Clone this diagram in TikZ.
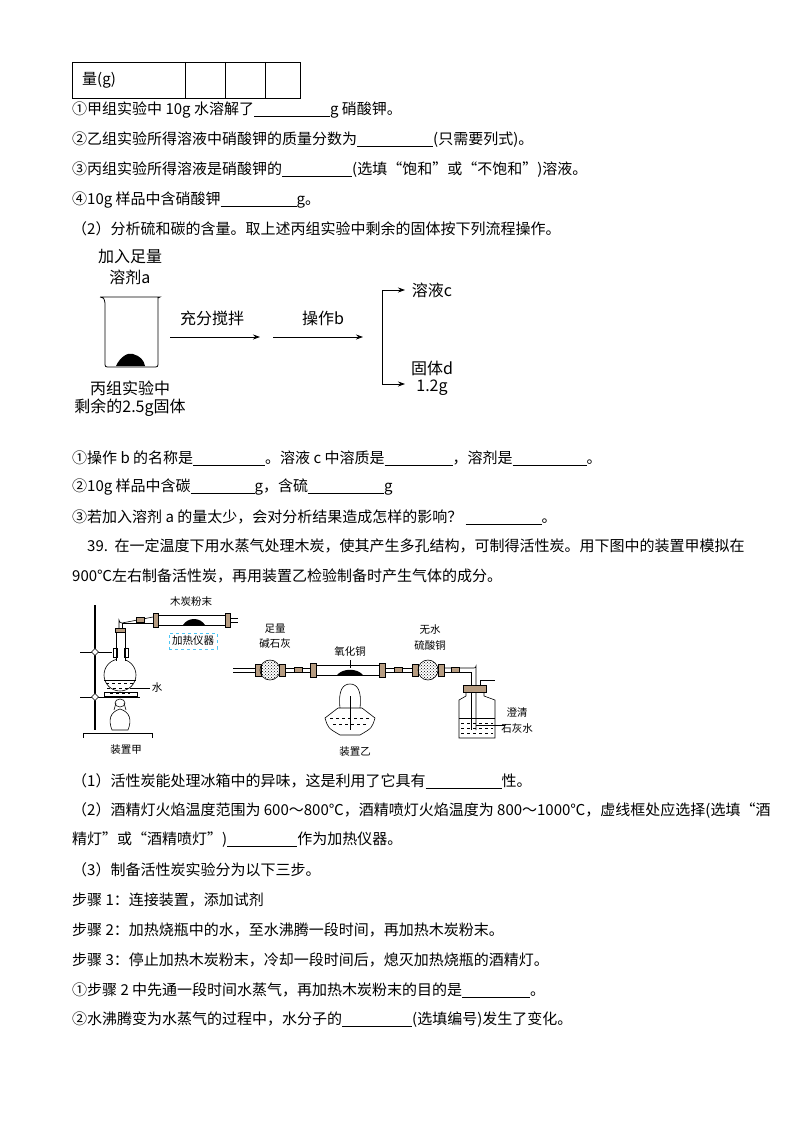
\documentclass[tikz,border=0pt]{standalone}
\usepackage{fontspec}
\setmainfont{Noto Sans CJK SC}
\usetikzlibrary{arrows.meta,patterns}
\newcommand{\blank}[1]{\rule[-2pt]{#1pt}{0.6pt}}
\begin{document}
\begin{tikzpicture}[x=1pt,y=-1pt,
  txt/.style={anchor=west,inner sep=0pt,font=\fontsize{15}{17}\selectfont},
  big/.style={inner sep=0pt,font=\fontsize{16}{19}\selectfont},
  sm/.style={inner sep=0pt,font=\fontsize{10.5}{12}\selectfont},
  flow/.style={-{Stealth[length=7pt,width=5pt]},line width=0.8pt},
  app/.style={line width=0.6pt},
  cork/.style={fill=brown!70!black!60,draw=black,line width=0.4pt}]
\useasboundingbox (0,0) rectangle (800,1132);
\fill[white] (0,0) rectangle (800,1132);
% table
\draw[line width=0.7pt] (72,62) rectangle (300,98);
\foreach \x in {185,225,265} \draw[line width=0.7pt] (\x,62)--(\x,98);
\node[txt] (t0) at (82,80) {量(g)};
\node[txt] (l1) at (72,110) {①甲组实验中 10g 水溶解了\blank{76}g 硝酸钾。};
\node[txt] (l2) at (72,140) {②乙组实验所得溶液中硝酸钾的质量分数为\blank{76}(只需要列式)。};
\node[txt] (l3) at (72,170) {③丙组实验所得溶液是硝酸钾的\blank{70}(选填“饱和”或“不饱和”)溶液。};
\node[txt] (l4) at (72,200) {④10g 样品中含硝酸钾\blank{76}g。};
\node[txt] (l5) at (72,229) {（2）分析硫和碳的含量。取上述丙组实验中剩余的固体按下列流程操作。};
% flowchart
\node[big] (fa) at (130,257) {加入足量};
\node[big] (fb) at (130,277) {溶剂a};
\draw[line width=0.8pt] (100,297) .. controls (104,298) .. (105,303) -- (105,362) .. controls (105,367) .. (110,367) -- (153,367) .. controls (158,367) .. (158,362) -- (158,298) -- (160,297) -- (100,297);
\fill[black] (116,366) .. controls (120,357) and (128,352) .. (133,354) .. controls (140,356) and (144,360) .. (145,366) -- cycle;
\node[big] (fc) at (130,388) {丙组实验中};
\node[big] (fd) at (130,408) {剩余的2.5g固体};
\coordinate (a1s) at (170,337); \coordinate (a1e) at (260,337);
\coordinate (a2s) at (273,337); \coordinate (a2e) at (363,337);
\draw[flow] (a1s)--(a1e);
\draw[flow] (a2s)--(a2e);
\node[big] (fe) at (212,318) {充分搅拌};
\node[big] (ff) at (323,318) {操作b};
\coordinate (bt) at (382,290); \coordinate (bb) at (382,384);
\coordinate (bte) at (405,290); \coordinate (bbe) at (405,384);
\draw[line width=0.8pt] (bt)--(bb);
\draw[flow] (bt)--(bte);
\draw[flow] (bb)--(bbe);
\node[big] (fg) at (432,290) {溶液c};
\node[big] (fh) at (432,368) {固体d};
\node[big] (fi) at (432,388) {1.2g};
% text
\node[txt] (m1) at (72,458) {①操作 b 的名称是\blank{72}。溶液 c 中溶质是\blank{68}，溶剂是\blank{74}。};
\node[txt] (m2) at (72,487) {②10g 样品中含碳\blank{64}g，含硫\blank{76}g};
\node[txt] (m3) at (72,517) {③若加入溶剂 a 的量太少，会对分析结果造成怎样的影响？ \blank{76}。};
\node[txt] (m4) at (87,546) {39.\ \ 在一定温度下用水蒸气处理木炭，使其产生多孔结构，可制得活性炭。用下图中的装置甲模拟在};
\node[txt] (m5) at (72,576) {900℃左右制备活性炭，再用装置乙检验制备时产生气体的成分。};
% apparatus jia
\draw[line width=1.2pt] (95,605)--(95,730);
\draw[app] (83,733)--(152,733) (83,733)--(83,738) (152,733)--(152,738);
\draw[app] (80,652)--(112,652) (80,697)--(140,697);
\node[draw,app,fill=white,minimum size=5pt,inner sep=0pt,rotate=45] (c1) at (95,652) {};
\node[draw,app,fill=white,minimum size=5pt,inner sep=0pt,rotate=45] (c2) at (95,697) {};
\draw[app,fill=white] (120,675) circle (16);
\fill[white] (116,632) rectangle (125,662);
\draw[app] (116,632)--(116,660.5) (125,632)--(125,660.5);
\draw[app] (113,648) rectangle (117,657) (124,648) rectangle (128,657);
\draw[app,dashed] (106,683)--(134,683) (107,688)--(133,688) (110,693)--(130,693);
\draw[app] (104,680) -- (136,680);
\node[cork,minimum width=10pt,minimum height=4pt,inner sep=0pt] (st1) at (120.5,630) {};
\draw[app] (119,628)--(119,620) arc(180:90:3) -- (153,617);
\draw[app] (122,628)--(122,623) -- (153,623);
\node[cork,minimum width=8pt,minimum height=5pt,inner sep=0pt] (rb1) at (140,620) {};
\draw[app] (153,615) rectangle (230,625);
\fill[cork] (153,613) rectangle (158,627) (225,613) rectangle (230,627);
\draw[app] (230,618)--(238,618) (230,622)--(238,622);
\fill[black] (183,625) .. controls (188,617) and (200,617) .. (205,625) -- cycle;
\node[sm] (lbA) at (191,602) {木炭粉末};
\node[sm,draw=cyan!70,dashed,inner sep=3pt] (lbB) at (193,641) {加热仪器};
\draw[app] (104,692) rectangle (137,696);
\draw[app] (112,730) .. controls (108,720) and (110,712) .. (120,709) .. controls (130,712) and (132,720) .. (128,730) -- cycle;
\draw[app] (114,710)--(116,703) (126,710)--(124,703);
\draw[app] (120,703) ellipse (5 and 4);
\draw[app] (130,688)--(150,688);
\node[sm] (lbW) at (157,688) {水};
\node[sm] (lbJ) at (126,750) {装置甲};
% apparatus yi
\draw[app] (233,668)--(262,668) (233,672)--(262,672);
\fill[cork] (255,664) rectangle (261,676);
\draw[app,pattern=crosshatch dots] (270,670) circle (10);
\fill[cork] (279,664) rectangle (285,676);
\draw[app] (285,668)--(310,668) (285,672)--(310,672);
\node[cork,minimum width=8pt,minimum height=5pt,inner sep=0pt] (rb2) at (298,670) {};
\node[sm] (lbZ1) at (275,629) {足量};
\node[sm] (lbZ2) at (275,644) {碱石灰};
\draw[app] (310,665) rectangle (385,675);
\fill[cork] (310,663) rectangle (316,677) (379,663) rectangle (385,677);
\fill[black] (337,675) .. controls (343,668) and (357,668) .. (363,675) -- cycle;
\draw[app] (350,660)--(350,668);
\node[sm] (lbCu) at (350,652) {氧化铜};
\draw[app] (385,668)--(412,668) (385,672)--(412,672);
\node[cork,minimum width=8pt,minimum height=5pt,inner sep=0pt] (rb3) at (398,670) {};
\fill[cork] (412,664) rectangle (418,676);
\draw[app,pattern=crosshatch dots] (428,670) circle (10);
\fill[cork] (438,664) rectangle (444,676);
\node[sm] (lbS1) at (430,630) {无水};
\node[sm] (lbS2) at (430,645) {硫酸铜};
\draw[app] (444,668)--(474,668) arc(90:0:2) -- (476,730);
\draw[app] (444,672)--(471,672) -- (471,730);
\node[cork,minimum width=8pt,minimum height=5pt,inner sep=0pt] (rb4) at (455,670) {};
\draw[app] (480,690)--(480,680)--(495,680);
\fill[cork] (463,685) rectangle (486,692);
\draw[app] (466,692)--(466,696) -- (459,700) -- (459,738) -- (495,738) -- (495,700) -- (484,696) -- (484,692);
\draw[app] (459,718)--(495,718);
\draw[app,dashed] (461,723)--(493,723) (461,728)--(493,728) (461,733)--(493,733);
\draw[app] (476,725)--(505,725);
\node[sm] (lbL1) at (517,712) {澄清};
\node[sm] (lbL2) at (517,728) {石灰水};
\draw[app] (340,708) .. controls (338,690) and (343,684) .. (350,684) .. controls (357,684) and (362,690) .. (360,708);
\draw[app] (338,708)--(362,708) -- (375,718) .. controls (372,728) .. (360,735) -- (340,735) .. controls (328,728) .. (325,718) -- (338,708);
\draw[app,dashed] (330,718)--(370,718) (333,724)--(367,724);
\draw[app] (350,696)--(350,730);
\node[sm] (lbY) at (355,752) {装置乙};
% lower text
\node[txt] (n1) at (72,781) {（1）活性炭能处理冰箱中的异味，这是利用了它具有\blank{76}性。};
\node[txt] (n2) at (72,811) {（2）酒精灯火焰温度范围为 600～800℃，酒精喷灯火焰温度为 800～1000℃，虚线框处应选择(选填“酒};
\node[txt] (n3) at (72,840) {精灯”或“酒精喷灯”)\blank{70}作为加热仪器。};
\node[txt] (n4) at (72,870) {（3）制备活性炭实验分为以下三步。};
\node[txt] (n5) at (72,900) {步骤 1：连接装置，添加试剂};
\node[txt] (n6) at (72,930) {步骤 2：加热烧瓶中的水，至水沸腾一段时间，再加热木炭粉末。};
\node[txt] (n7) at (72,960) {步骤 3：停止加热木炭粉末，冷却一段时间后，熄灭加热烧瓶的酒精灯。};
\node[txt] (n8) at (72,990) {①步骤 2 中先通一段时间水蒸气，再加热木炭粉末的目的是\blank{68}。};
\node[txt] (n9) at (72,1020) {②水沸腾变为水蒸气的过程中，水分子的\blank{70}(选填编号)发生了变化。};
\end{tikzpicture}
\end{document}
